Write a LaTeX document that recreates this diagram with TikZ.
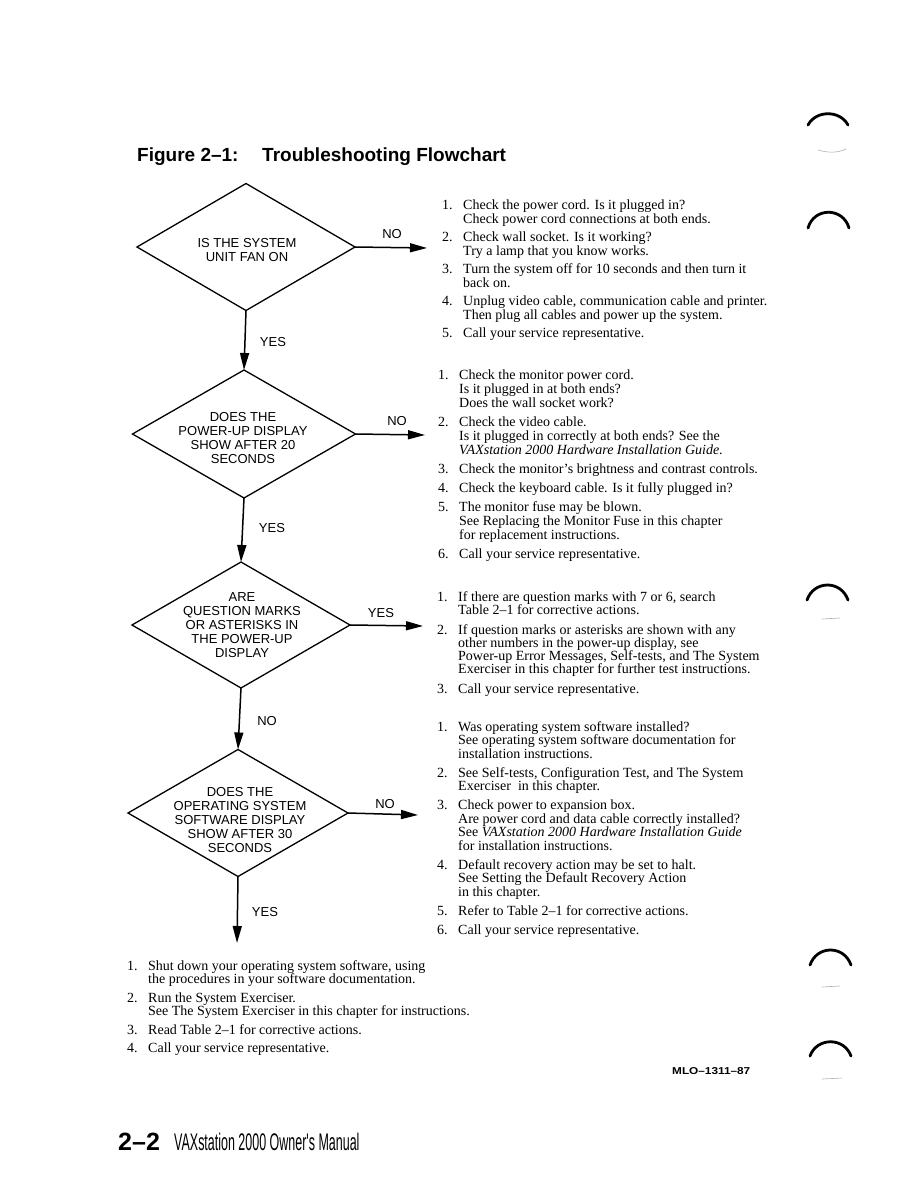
\documentclass[tikz,border=0pt]{standalone}
\usepackage{fontspec}
\usepackage{graphicx}
\setmainfont{Liberation Serif}
\newfontfamily\hv{Liberation Sans}
\usetikzlibrary{shapes.geometric,arrows.meta}
\newcommand\itemnum[1]{\makebox[21pt][l]{#1}}
\newcommand\itemind{\hspace*{21pt}}
\begin{document}
\begin{tikzpicture}[x=1pt,y=-1pt,
  dia/.style={draw, diamond, line width=1.3pt, inner sep=0pt, outer sep=0pt},
  dtext/.style={font=\hv\fontsize{13}{14}\selectfont, align=center, inner sep=0pt},
  flow/.style={line width=1.5pt, -{Triangle[length=17pt,width=9pt]}},
  lab/.style={font=\hv\fontsize{13}{14}\selectfont, inner sep=0pt},
  steps/.style={anchor=north west, align=left, inner sep=0pt},
  binder/.style={line width=2.8pt, line cap=round},
  faint/.style={line width=0.6pt, gray!60},
  ttl/.style={anchor=base west, inner sep=0pt, font=\hv\bfseries\fontsize{19}{22}\selectfont},
]
\useasboundingbox (0,0) rectangle (918,1188);
\fill[white] (0,0) rectangle (918,1188);

% title
\node[ttl] (title1) at (137,161) {Figure 2–1:};
\node[ttl] (title2) at (262,161) {Troubleshooting Flowchart};

% diamonds
\node[dia, minimum width=218pt, minimum height=127pt] (d1) at (246,247) {};
\node[dtext] (t1) at (247,250) {IS THE SYSTEM\\UNIT FAN ON};

\node[dia, minimum width=223pt, minimum height=128pt] (d2) at (244,434) {};
\node[dtext] (t2) at (243,438) {DOES THE\\POWER-UP DISPLAY\\SHOW AFTER 20\\SECONDS};

\node[dia, minimum width=218pt, minimum height=126pt] (d3) at (241,625) {};
\node[dtext] (t3) at (242,625) {ARE\\QUESTION MARKS\\OR ASTERISKS IN\\THE POWER-UP\\DISPLAY};

\node[dia, minimum width=220pt, minimum height=127pt] (d4) at (238,813) {};
\node[dtext] (t4) at (240,820) {DOES THE\\OPERATING SYSTEM\\SOFTWARE DISPLAY\\SHOW AFTER 30\\SECONDS};

% connector ends
\coordinate (e1) at (427,248);
\coordinate (e2) at (425,435);
\coordinate (e3) at (423,626);
\coordinate (e4) at (418,815);
\coordinate (e5) at (237,943);

\draw[flow] (d1.east) -- (e1);
\draw[flow] (d1.south) -- (d2.north);
\draw[flow] (d2.east) -- (e2);
\draw[flow] (d2.south) -- (d3.north);
\draw[flow] (d3.east) -- (e3);
\draw[flow] (d3.south) -- (d4.north);
\draw[flow] (d4.east) -- (e4);
\draw[flow] (d4.south) -- (e5);

% labels
\node[lab] (l1) at (392,234) {NO};
\node[lab] (l2) at (273,342) {YES};
\node[lab] (l3) at (397,421) {NO};
\node[lab] (l4) at (272,528) {YES};
\node[lab] (l5) at (381,613) {YES};
\node[lab] (l6) at (267,721) {NO};
\node[lab] (l7) at (385,804) {NO};
\node[lab] (l8) at (265,912) {YES};

% step lists
\node[steps, font=\fontsize{14}{13.5}\selectfont] (s1) at (442,200) {%
\itemnum{1.}Check the power cord. Is it plugged in?\\
\itemind Check power cord connections at both ends.\\[5pt]
\itemnum{2.}Check wall socket. Is it working?\\
\itemind Try a lamp that you know works.\\[5pt]
\itemnum{3.}Turn the system off for 10 seconds and then turn it\\
\itemind back on.\\[5pt]
\itemnum{4.}Unplug video cable, communication cable and printer.\\
\itemind Then plug all cables and power up the system.\\[5pt]
\itemnum{5.}Call your service representative.};

\node[steps, font=\fontsize{14}{14}\selectfont] (s2) at (438,370) {%
\itemnum{1.}Check the monitor power cord.\\
\itemind Is it plugged in at both ends?\\
\itemind Does the wall socket work?\\[5pt]
\itemnum{2.}Check the video cable.\\
\itemind Is it plugged in correctly at both ends? See the\\
\itemind\textit{VAXstation 2000 Hardware Installation Guide}.\\[5pt]
\itemnum{3.}Check the monitor's brightness and contrast controls.\\[5pt]
\itemnum{4.}Check the keyboard cable. Is it fully plugged in?\\[5pt]
\itemnum{5.}The monitor fuse may be blown.\\
\itemind See Replacing the Monitor Fuse in this chapter\\
\itemind for replacement instructions.\\[5pt]
\itemnum{6.}Call your service representative.};

\node[steps, font=\fontsize{14}{13}\selectfont] (s3) at (437,591) {%
\itemnum{1.}If there are question marks with 7 or 6, search\\
\itemind Table 2–1 for corrective actions.\\[7pt]
\itemnum{2.}If question marks or asterisks are shown with any\\
\itemind other numbers in the power-up display, see\\
\itemind Power-up Error Messages, Self-tests, and The System\\
\itemind Exerciser in this chapter for further test instructions.\\[7pt]
\itemnum{3.}Call your service representative.};

\node[steps, font=\fontsize{14}{13.5}\selectfont] (s4) at (437,721) {%
\itemnum{1.}Was operating system software installed?\\
\itemind See operating system software documentation for\\
\itemind installation instructions.\\[5.5pt]
\itemnum{2.}See Self-tests, Configuration Test, and The System\\
\itemind Exerciser\ \ in this chapter.\\[5.5pt]
\itemnum{3.}Check power to expansion box.\\
\itemind Are power cord and data cable correctly installed?\\
\itemind See \textit{VAXstation 2000 Hardware Installation Guide}\\
\itemind for installation instructions.\\[5.5pt]
\itemnum{4.}Default recovery action may be set to halt.\\
\itemind See Setting the Default Recovery Action\\
\itemind in this chapter.\\[5.5pt]
\itemnum{5.}Refer to Table 2–1 for corrective actions.\\[5.5pt]
\itemnum{6.}Call your service representative.};

\node[steps, font=\fontsize{14}{13.5}\selectfont] (s5) at (127,960) {%
\itemnum{1.}Shut down your operating system software, using\\
\itemind the procedures in your software documentation.\\[5pt]
\itemnum{2.}Run the System Exerciser.\\
\itemind See The System Exerciser in this chapter for instructions.\\[5pt]
\itemnum{3.}Read Table 2–1 for corrective actions.\\[5pt]
\itemnum{4.}Call your service representative.};

% footer
\node[anchor=base west, inner sep=0pt, font=\hv\bfseries\fontsize{10}{12}\selectfont] (mlo) at (672,1074)
  {\scalebox{1.18}[1]{MLO–1311–87}};
\node[anchor=base west, inner sep=0pt, font=\hv\bfseries\fontsize{25}{28}\selectfont] (pg) at (118,1150) {2–2};
\node[anchor=base west, inner sep=0pt, font=\hv\fontsize{24}{28}\selectfont] (book) at (174,1150)
  {\scalebox{0.52}[1]{VAXstation 2000 Owner's Manual}};

% binder marks
\draw[binder] (808,125) .. controls (816,110) and (840,110) .. (848,125);
\draw[faint] (818,150) .. controls (828,153) and (838,153) .. (846,149);
\draw[binder] (808,228) .. controls (814,207) and (843,207) .. (849,228);
\draw[binder] (807,600) .. controls (814,580) and (841,580) .. (848,600);
\draw[faint] (822,619) -- (840,618);
\draw[binder] (810,965) .. controls (817,945) and (844,945) .. (851,965);
\draw[faint] (822,987) -- (840,986);
\draw[binder] (810,1056) .. controls (817,1037) and (844,1037) .. (851,1056);
\draw[faint] (822,1079) -- (842,1078);
\end{tikzpicture}
\end{document}
